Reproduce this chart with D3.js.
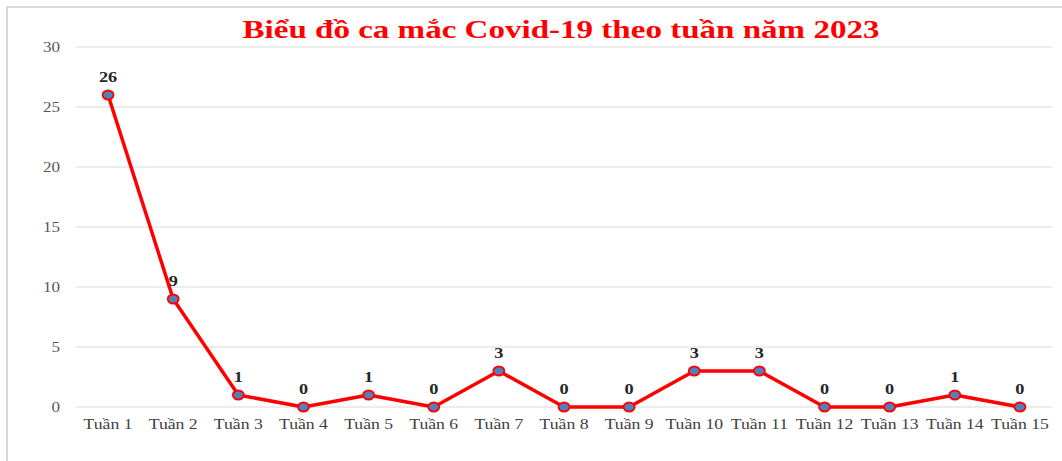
<!DOCTYPE html>
<html>
<head>
<meta charset="utf-8">
<script src="https://cdn.jsdelivr.net/npm/d3@7"></script>
<style>
  body { margin: 0; background: #fff; }
  text { font-family: "Liberation Serif", "Times New Roman", serif; }
</style>
</head>
<body>
<svg id="chart" width="1062" height="461"></svg>
<script>
const weeks = ["Tuần 1","Tuần 2","Tuần 3","Tuần 4","Tuần 5","Tuần 6","Tuần 7","Tuần 8",
               "Tuần 9","Tuần 10","Tuần 11","Tuần 12","Tuần 13","Tuần 14","Tuần 15"];
const cases = [26, 9, 1, 0, 1, 0, 3, 0, 0, 3, 3, 0, 0, 1, 0];
const yTicks = [0, 5, 10, 15, 20, 25, 30];
const title = "Biểu đồ ca mắc Covid-19 theo tuần năm 2023";

const svg = d3.select("#chart");
const margin = {left: 75.5, right: 1052.5, top: 47, bottom: 407};
const stretch = 1.22; // text in the picture is widened

// frame
svg.append("path")
    .attr("d", "M7,461V7H1062")
    .attr("fill", "none")
    .attr("stroke", "#d9d9d9")
    .attr("stroke-width", 2);

const x = d3.scalePoint()
    .domain(weeks)
    .range([margin.left, margin.right])
    .padding(0.5);

const y = d3.scaleLinear()
    .domain([0, 30])
    .range([margin.bottom, margin.top]);

// gridlines
svg.append("g")
    .selectAll("line")
    .data(yTicks)
    .join("line")
    .attr("x1", margin.left).attr("x2", margin.right)
    .attr("y1", d => y(d)).attr("y2", d => y(d))
    .attr("stroke", "#d9d9d9")
    .attr("stroke-width", 1);

// y tick labels
svg.append("g")
    .selectAll("text")
    .data(yTicks)
    .join("text")
    .attr("transform", d => `translate(60,${y(d) + 5}) scale(${stretch},1)`)
    .attr("text-anchor", "end")
    .attr("font-size", 14)
    .attr("fill", "#595959")
    .text(d => d);

// x labels
svg.append("g")
    .selectAll("text")
    .data(weeks)
    .join("text")
    .attr("transform", d => `translate(${x(d)},${y(0) + 22}) scale(${stretch},1)`)
    .attr("text-anchor", "middle")
    .attr("font-size", 14.5)
    .attr("fill", "#404040")
    .text(d => d);

const data = weeks.map((w, i) => ({week: w, value: cases[i]}));

const line = d3.line()
    .x(d => x(d.week))
    .y(d => y(d.value));

svg.append("path")
    .datum(data)
    .attr("d", line)
    .attr("fill", "none")
    .attr("stroke", "#ff0000")
    .attr("stroke-width", 3.5)
    .attr("stroke-linejoin", "round");

svg.append("g")
    .selectAll("ellipse")
    .data(data)
    .join("ellipse")
    .attr("cx", d => x(d.week))
    .attr("cy", d => y(d.value))
    .attr("rx", 5.5)
    .attr("ry", 4.5)
    .attr("fill", "#4f81bd")
    .attr("stroke", "#ff0000")
    .attr("stroke-width", 1.8);

// data labels
svg.append("g")
    .selectAll("text")
    .data(data)
    .join("text")
    .attr("transform", d => `translate(${x(d.week)},${y(d.value) - 13}) scale(${stretch},1)`)
    .attr("text-anchor", "middle")
    .attr("font-size", 15)
    .attr("font-weight", "bold")
    .attr("fill", "#262626")
    .text(d => d.value);

// title
svg.append("text")
    .attr("x", 561)
    .attr("y", 38)
    .attr("text-anchor", "middle")
    .attr("font-size", 26)
    .attr("font-weight", "bold")
    .attr("fill", "#ff0000")
    .attr("textLength", 637)
    .attr("lengthAdjust", "spacingAndGlyphs")
    .text(title);
</script>
</body>
</html>
